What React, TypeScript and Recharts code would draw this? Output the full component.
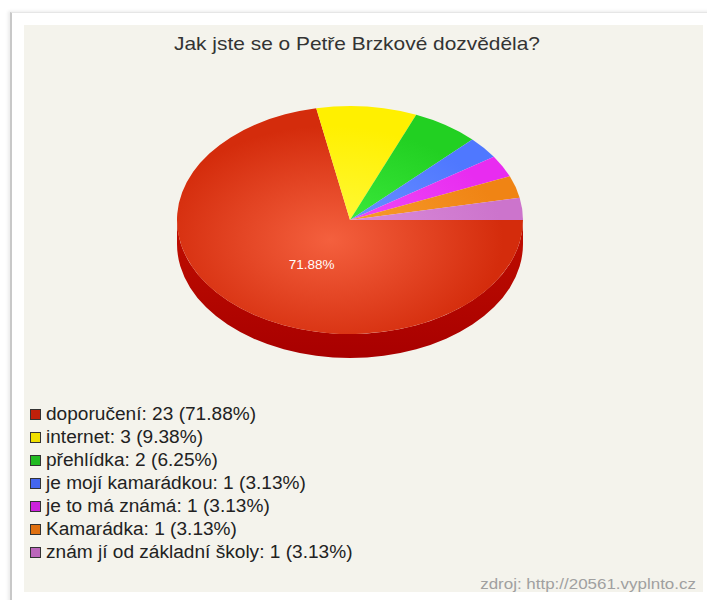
import React from 'react';
import { PieChart, Pie } from 'recharts';

const labels = [
    'doporučení',
    'internet',
    'přehlídka',
    'je mojí kamarádkou',
    'je to má známá',
    'Kamarádka',
    'znám jí od základní školy'
];
const counts = [23, 3, 2, 1, 1, 1, 1];
const topColors = ['#d42c0c', '#fff000', '#22d022', '#4f78ff', '#e82cf0', '#f08414', '#cc74cc'];
const lightColors = ['#f4603e', '#fffa40', '#40ee40', '#6f94ff', '#f050f8', '#f8a030', '#dc90dc'];
const keyColors = ['#c0200a', '#f0e000', '#22bb22', '#4466ee', '#cc22dd', '#e07010', '#bb66bb'];

const total = counts.reduce((a, b) => a + b, 0);
const pct = (v: number) => ((v * 100) / total).toFixed(2) + '%';

const data = labels.map((name, i) => ({ name, value: counts[i], idx: i }));

const CX = 350;
const CY = 220;
const RX = 173;
const SQUASH = 114 / 173;
const DEPTH = 24;
const FONT = '"Liberation Sans", Arial, sans-serif';

const pt = (cx: number, cy: number, rx: number, ry: number, a: number) => {
    const r = (a * Math.PI) / 180;
    return [cx + rx * Math.cos(r), cy - ry * Math.sin(r)];
};

// one slice of the tilted pie: lower rim first, then the top face
const Slice3D = (props: any) => {
    const { cx, cy, outerRadius, startAngle, endAngle, payload } = props;
    const idx = payload?.idx ?? props.index ?? 0;
    const rx = outerRadius;
    const ry = outerRadius * SQUASH;
    const s = pt(cx, cy, rx, ry, startAngle);
    const e = pt(cx, cy, rx, ry, endAngle);
    const sweep = endAngle < startAngle ? 1 : 0;
    const large = Math.abs(endAngle - startAngle) > 180 ? 1 : 0;
    const top = `M${cx},${cy} L${s[0]},${s[1]} A${rx},${ry} 0 ${large} ${sweep} ${e[0]},${e[1]} Z`;

    // part of the arc that faces the viewer (angles -180..0)
    const lo = Math.min(startAngle, endAngle);
    const hi = Math.max(startAngle, endAngle);
    let side = null;
    for (const base of [0, 360, -360]) {
        const a1 = Math.max(lo, -180 + base);
        const a2 = Math.min(hi, 0 + base);
        if (a2 - a1 > 0.01) {
            const p1 = pt(cx, cy, rx, ry, a2);
            const p2 = pt(cx, cy, rx, ry, a1);
            const big = a2 - a1 > 180 ? 1 : 0;
            const d = `M${p1[0]},${p1[1]} A${rx},${ry} 0 ${big} 1 ${p2[0]},${p2[1]} L${p2[0]},${p2[1] + DEPTH} A${rx},${ry} 0 ${big} 0 ${p1[0]},${p1[1] + DEPTH} Z`;
            side = <path d={d} fill={`url(#side${idx})`} stroke="none" />;
        }
    }

    return (
        <g>
            {side}
            <path d={top} fill={`url(#top${idx})`} stroke="none" />
        </g>
    );
};

const renderLabel = (props: any) => {
    const { cx, cy, midAngle, outerRadius, percent, index } = props;
    if (index !== 0) return null;
    const r = (midAngle * Math.PI) / 180;
    const x = cx + outerRadius * 0.35 * Math.cos(r);
    const y = cy - outerRadius * SQUASH * 0.51 * Math.sin(r);
    return (
        <text x={x} y={y} fill="#ffffff" fontSize={13.5} fontFamily={FONT} textAnchor="middle" dominantBaseline="central">
            {(percent * 100).toFixed(2)}%
        </text>
    );
};

export default function App() {
    return (
        <div style={{ position: 'relative', width: 707, height: 600, background: '#ffffff', overflow: 'hidden' }}>
            <style>{'body{margin:0}'}</style>
            {/* frame */}
            <div
                style={{
                    position: 'absolute',
                    left: 10,
                    top: 12,
                    width: 700,
                    height: 600,
                    borderLeft: '2px solid #c8c8c8',
                    borderTop: '1px solid #e6e6e6',
                    boxShadow: '-2px -1px 3px rgba(0,0,0,0.08)',
                    background: '#ffffff'
                }}
            />
            <div style={{ position: 'absolute', left: 24, top: 25, width: 679, height: 567, background: '#f4f3ec' }} />
            <div
                style={{
                    position: 'absolute',
                    left: 0,
                    top: 33,
                    width: 714,
                    textAlign: 'center',
                    fontFamily: FONT,
                    fontSize: 19,
                    color: '#333333',
                    transform: 'scaleX(1.1)',
                    transformOrigin: '357px 0'
                }}
            >
                Jak jste se o Petře Brzkové dozvěděla?
            </div>

            <div style={{ position: 'absolute', left: 0, top: 0 }}>
                <PieChart width={707} height={400} margin={{ top: 0, right: 0, bottom: 0, left: 0 }}>
                    <defs>
                        {topColors.map((c, i) => (
                            <radialGradient
                                key={`t${i}`}
                                id={`top${i}`}
                                gradientUnits="userSpaceOnUse"
                                cx={CX - 20}
                                cy={CY + 20}
                                r={RX}
                                gradientTransform={`translate(${CX - 20} ${CY + 20}) scale(1 ${SQUASH}) translate(${-(CX - 20)} ${-(CY + 20)})`}
                            >
                                <stop offset="0%" stopColor={lightColors[i]} />
                                <stop offset="100%" stopColor={c} />
                            </radialGradient>
                        ))}
                        {keyColors.map((c, i) => (
                            <linearGradient key={`s${i}`} id={`side${i}`} x1="0" y1="0" x2="0" y2="1">
                                <stop offset="0%" stopColor={i === 0 ? '#c00e00' : c} />
                                <stop offset="100%" stopColor={i === 0 ? '#a80000' : c} />
                            </linearGradient>
                        ))}
                    </defs>
                    <Pie
                        data={data}
                        dataKey="value"
                        nameKey="name"
                        cx={CX}
                        cy={CY}
                        outerRadius={RX}
                        startAngle={0}
                        endAngle={-360}
                        stroke="none"
                        shape={Slice3D}
                        activeShape={Slice3D}
                        inactiveShape={Slice3D}
                        label={renderLabel}
                        labelLine={false}
                        isAnimationActive={false}
                    />
                </PieChart>
            </div>

            {/* legend */}
            <div style={{ position: 'absolute', left: 30, top: 403, fontFamily: FONT, fontSize: 18, color: '#222222' }}>
                {labels.map((name, i) => (
                    <div key={name} style={{ display: 'flex', alignItems: 'center', height: 23 }}>
                        <span
                            style={{
                                display: 'inline-block',
                                width: 9,
                                height: 9,
                                background: keyColors[i],
                                border: '1px solid #333333',
                                marginRight: 5,
                                flex: 'none'
                            }}
                        />
                        <span style={{ display: 'inline-block', transform: 'scaleX(1.06)', transformOrigin: '0 50%', whiteSpace: 'nowrap' }}>
                            {name}: {counts[i]} ({pct(counts[i])})
                        </span>
                    </div>
                ))}
            </div>

            <div
                style={{
                    position: 'absolute',
                    right: 11,
                    top: 575,
                    fontFamily: FONT,
                    fontSize: 15,
                    color: '#a0a0a0',
                    transform: 'scaleX(1.13)',
                    transformOrigin: '100% 0'
                }}
            >
                zdroj: http://20561.vyplnto.cz
            </div>
        </div>
    );
}
